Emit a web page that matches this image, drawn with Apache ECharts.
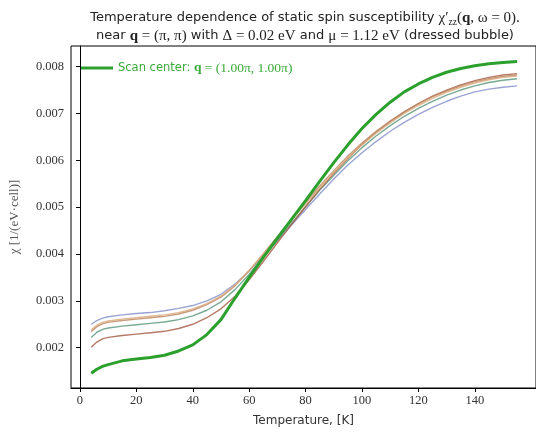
<!DOCTYPE html>
<html><head><meta charset="utf-8">
<script src="https://cdn.jsdelivr.net/npm/echarts@6/dist/echarts.min.js"></script>
<style>html,body{margin:0;padding:0;background:#fff}#c{width:536px;height:432px}</style>
</head><body><div id="c"></div>
<script>
const temps = [4,6,8,10,15,20,25,30,35,40,45,50,55,60,65,70,75,80,85,90,95,100,105,110,115,120,125,130,135,140,145,150,155];
const center = [0.001455,0.00154,0.00160,0.00164,0.00172,0.00176,0.00179,0.00184,0.00193,0.00206,0.00228,0.00260,0.00306,0.00350,0.00393,0.00434,0.00474,0.00514,0.00555,0.00595,0.00633,0.00668,0.00698,0.00724,0.00746,0.00763,0.00777,0.00788,0.00796,0.00802,0.00806,0.00809,0.00811];
const blueS = [0.00250,0.00258,0.00263,0.00266,0.00270,0.00273,0.00275,0.00279,0.00284,0.00290,0.00300,0.00314,0.00336,0.00364,0.00395,0.00428,0.00462,0.00495,0.00528,0.00560,0.00590,0.00616,0.00640,0.00662,0.00681,0.00698,0.00713,0.00726,0.00737,0.00746,0.00752,0.00756,0.00759];
const tanS = [0.00238,0.00248,0.00254,0.00257,0.00261,0.00264,0.00267,0.00270,0.00275,0.00283,0.00294,0.00310,0.00334,0.00365,0.00400,0.00436,0.00472,0.00507,0.00541,0.00574,0.00605,0.00633,0.00658,0.00680,0.00700,0.00717,0.00732,0.00745,0.00756,0.00765,0.00772,0.00777,0.00780];
const siennaS = [0.00234,0.00245,0.00251,0.00254,0.00258,0.00261,0.00264,0.00267,0.00272,0.00280,0.00292,0.00308,0.00332,0.00364,0.00400,0.00437,0.00474,0.00510,0.00545,0.00578,0.00609,0.00637,0.00662,0.00684,0.00704,0.00721,0.00736,0.00748,0.00759,0.00768,0.00774,0.00779,0.00782];
const tealS = [0.00222,0.00233,0.00239,0.00242,0.00246,0.00249,0.00252,0.00255,0.00260,0.00268,0.00280,0.00298,0.00324,0.00357,0.00393,0.00430,0.00466,0.00501,0.00536,0.00568,0.00599,0.00627,0.00652,0.00674,0.00694,0.00711,0.00726,0.00739,0.00750,0.00759,0.00766,0.00771,0.00774];
const brownS = [0.00201,0.00212,0.00219,0.00222,0.00226,0.00229,0.00232,0.00235,0.00241,0.00250,0.00264,0.00283,0.00310,0.00345,0.00384,0.00424,0.00463,0.00501,0.00538,0.00572,0.00604,0.00634,0.00660,0.00683,0.00703,0.00721,0.00737,0.00750,0.00761,0.00770,0.00777,0.00782,0.00785];
const xTicks = [0,20,40,60,80,100,120,140];
const yTicks = [0.002,0.003,0.004,0.005,0.006,0.007,0.008];

const pair = a => temps.map((t,i)=>[t,a[i]]);
const SANS = "'DejaVu Sans', sans-serif";
const SERIF = "'Liberation Serif', 'DejaVu Serif', serif";
function thin(name, data, color){
  return {name, type:'line', data:pair(data), showSymbol:false, smooth:false,
    lineStyle:{width:1.4, color, opacity:0.85}, itemStyle:{color}, z:2};
}
const chart = echarts.init(document.getElementById('c'), null, {renderer:'canvas'});
chart.setOption({
  animation:false,
  title:{
    left:300, top:4, textAlign:'center',
    text:'{s|Temperature dependence of static spin susceptibility }{m|χ′}{sub|zz}{m|(}{b|q}{m|, ω = 0).}\n{s|near }{b|q}{m| = (π, π)}{s| with }{m|Δ = 0.02 eV}{s| and }{m|μ = 1.12 eV}{s| (dressed bubble)}',
    textStyle:{
      fontWeight:'normal',
      rich:{
        s:{fontFamily:SANS, fontSize:13, fontWeight:'normal', color:'#222', lineHeight:18},
        m:{fontFamily:SERIF, fontSize:15, fontWeight:'normal', color:'#222', lineHeight:18},
        b:{fontFamily:SERIF, fontSize:15, fontWeight:'bold', color:'#222', lineHeight:18},
        sub:{fontFamily:SERIF, fontSize:9.5, fontWeight:'normal', color:'#222', lineHeight:18, verticalAlign:'bottom', padding:[6,0,0,0]}
      }
    }
  },
  legend:{
    left:76, top:56, itemWidth:32, itemHeight:3, itemGap:10,
    data:[{name:'center', icon:'rect', itemStyle:{color:'#2ca02c'}}],
    formatter:()=> '{s|Scan center: }{b|q}{m| = (1.00π, 1.00π)}',
    textStyle:{rich:{
      s:{fontFamily:SANS, fontSize:11.5, color:'#3aaa3a'},
      m:{fontFamily:SERIF, fontSize:13.5, color:'#3aaa3a'},
      b:{fontFamily:SERIF, fontSize:13.5, fontWeight:'bold', color:'#3aaa3a'}
    }}
  },
  grid:{left:67, top:46, right:0, bottom:38, show:true, borderColor:'#000', borderWidth:1, backgroundColor:'transparent', containLabel:false},
  xAxis:{
    type:'value', min:-3.17, max:161.7,
    name:'Temperature, [K]', nameLocation:'middle', nameGap:27,
    nameTextStyle:{fontFamily:SANS, fontSize:12, color:'#333'},
    axisLine:{show:true, lineStyle:{color:'#000'}},
    axisTick:{show:true, length:4, lineStyle:{color:'#000'}, customValues:xTicks},
    axisLabel:{customValues:xTicks, fontFamily:SERIF, fontSize:12.5, color:'#333', margin:6},
    splitLine:{show:false}
  },
  yAxis:{
    type:'value', min:0.00114, max:0.00844,
    name:'χ [1/(eV·cell)]', nameLocation:'middle', nameGap:50,
    nameTextStyle:{fontFamily:SERIF, fontSize:13, color:'#555'},
    axisLine:{show:true, lineStyle:{color:'#000'}},
    axisTick:{show:true, length:4, lineStyle:{color:'#000'}, customValues:yTicks},
    axisLabel:{customValues:yTicks, fontFamily:SERIF, fontSize:12.5, color:'#333', margin:7, formatter:v=>v.toFixed(3)},
    splitLine:{show:false}
  },
  series:[
    thin('blue', blueS, '#8a93cb'),
    thin('teal', tealS, '#5f9b80'),
    thin('brown', brownS, '#a8614a'),
    thin('sienna', siennaS, '#c08a66'),
    thin('tan', tanS, '#d9ab7e'),
    {name:'center', type:'line', data:pair(center), showSymbol:false, smooth:false,
      lineStyle:{width:3, color:'#2ca02c'}, itemStyle:{color:'#2ca02c'}, z:5}
  ]
});
</script></body></html>
